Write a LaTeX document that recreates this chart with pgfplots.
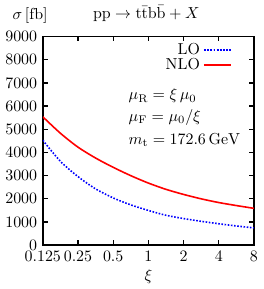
\documentclass[border=0pt]{standalone}
\usepackage{pgfplots}
\pgfplotsset{compat=1.18}
\begin{document}
\begin{tikzpicture}
\begin{axis}[
  scale only axis,
  width=132.6pt, height=131pt,
  xmode=log, log basis x=2,
  xmin=0.125, xmax=8, ymin=0, ymax=9000,
  xtick={0.125,0.25,0.5,1,2,4,8},
  xticklabels={0.125,0.25,0.5,1,2,4,8},
  ytick={0,1000,...,9000},
  scaled y ticks=false,
  yticklabel style={/pgf/number format/set thousands separator={}},
  minor tick num=0,
  tick align=inside,
  major tick length=3pt,
  axis line style={line width=1pt},
  tick style={line width=0.8pt, black},
  xlabel={$\xi$},
  xlabel style={yshift=2pt},
  legend style={at={(0.92,1.0)}, anchor=north east, draw=none, fill=none, row sep=-3pt},
  legend cell align=right,
  legend plot pos=right,
  clip mode=individual,
]
\addplot[blue, densely dotted, line width=1pt, smooth] coordinates {
(0.125,4530) (0.1768,3620) (0.25,2960) (0.3536,2430) (0.5,2040) (0.7071,1740) (1,1500) (1.4142,1290) (2,1150) (2.8284,1030) (4,925) (5.6569,830) (8,745)
};
\addlegendentry{LO}
\addplot[red, line width=1pt, smooth] coordinates {
(0.125,5540) (0.1768,4830) (0.25,4230) (0.3536,3760) (0.5,3360) (0.7071,3000) (1,2680) (1.4142,2410) (2,2190) (2.8284,2000) (4,1840) (5.6569,1710) (8,1590)
};
\addlegendentry{NLO}
\node[anchor=west] at (rel axis cs:0.38,0.716) {$\mu_\mathrm{R}=\xi\,\mu_0$};
\node[anchor=west] at (rel axis cs:0.38,0.612) {$\mu_\mathrm{F}=\mu_0/\xi$};
\node[anchor=west] at (rel axis cs:0.38,0.504) {$m_\mathrm{t}=172.6\,\mathrm{GeV}$};
\node at (rel axis cs:0.49,1.0) [yshift=14.5pt] {$\mathrm{pp}\to\mathrm{t\bar{t}b\bar{b}}+X$};
\node at (rel axis cs:-0.06,1.0) [yshift=13pt] {$\sigma\,[\mathrm{fb}]$};
\end{axis}
\end{tikzpicture}
\end{document}
